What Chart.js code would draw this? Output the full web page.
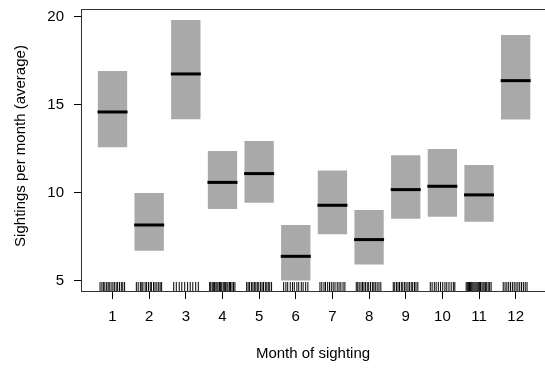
<!DOCTYPE html>
<html>
<head>
<meta charset="utf-8">
<script src="https://cdn.jsdelivr.net/npm/chart.js@4.4.1/dist/chart.umd.min.js"></script>
<style>
  html, body { margin: 0; padding: 0; background: #fff; }
  #wrap { width: 545px; height: 369px; }
</style>
</head>
<body>
<div id="wrap"><canvas id="sightChart" width="545" height="369"></canvas></div>
<script>
// Data
const months   = [1, 2, 3, 4, 5, 6, 7, 8, 9, 10, 11, 12];
const boxLow   = [12.6, 6.72, 14.19, 9.09, 9.45, 5.02, 7.65, 5.93, 8.54, 8.65, 8.37, 14.17];
const boxHigh  = [16.93, 10.0, 19.83, 12.39, 12.95, 8.18, 11.27, 9.03, 12.14, 12.5, 11.59, 18.98];
const meanVals = [14.6, 8.18, 16.76, 10.6, 11.1, 6.4, 9.3, 7.35, 10.19, 10.38, 9.89, 16.38];
const yTicks   = [5, 10, 15, 20];
const xTicks   = [1, 2, 3, 4, 5, 6, 7, 8, 9, 10, 11, 12];

// rug: jitter of individual observations around each month
const rugOffsets = [
    [-0.34,-0.29,-0.25,-0.21,-0.16,-0.12,-0.09,-0.04,0.01,0.05,0.10,0.14,0.19,0.24,0.28,0.33],
    [-0.35,-0.30,-0.24,-0.20,-0.17,-0.11,-0.07,-0.02,0.03,0.06,0.12,0.16,0.21,0.26,0.30,0.34],
    [-0.33,-0.26,-0.18,-0.11,-0.03,0.05,0.12,0.19,0.27,0.34],
    [-0.35,-0.32,-0.28,-0.25,-0.22,-0.18,-0.15,-0.12,-0.08,-0.05,-0.02,0.02,0.05,0.08,0.12,0.15,0.19,0.22,0.26,0.30,0.34],
    [-0.34,-0.30,-0.26,-0.21,-0.17,-0.13,-0.09,-0.05,-0.01,0.04,0.08,0.12,0.17,0.21,0.25,0.29,0.34],
    [-0.33,-0.27,-0.22,-0.15,-0.09,-0.04,0.03,0.08,0.15,0.20,0.27,0.33],
    [-0.34,-0.29,-0.23,-0.19,-0.13,-0.08,-0.03,0.02,0.07,0.13,0.18,0.23,0.29,0.34],
    [-0.35,-0.31,-0.27,-0.22,-0.18,-0.14,-0.10,-0.05,-0.01,0.04,0.09,0.13,0.17,0.22,0.27,0.32],
    [-0.34,-0.30,-0.25,-0.21,-0.17,-0.12,-0.08,-0.03,0.01,0.06,0.10,0.15,0.19,0.24,0.28,0.33],
    [-0.33,-0.28,-0.22,-0.17,-0.11,-0.05,0.01,0.07,0.12,0.18,0.24,0.30,0.34],
    [-0.35,-0.32,-0.29,-0.26,-0.23,-0.20,-0.17,-0.14,-0.11,-0.08,-0.05,-0.02,0.01,0.04,0.08,0.11,0.14,0.18,0.21,0.25,0.29,0.33],
    [-0.34,-0.29,-0.24,-0.19,-0.14,-0.09,-0.04,0.01,0.06,0.11,0.16,0.21,0.26,0.31]
];

const xTitle = 'Month of sighting';
const yTitle = 'Sightings per month (average)';

const FONT = '"Liberation Sans", Arial, Helvetica, sans-serif';

// top frame line, rug and axis titles (R style)
const extrasPlugin = {
    id: 'extras',
    afterDatasetsDraw(chart) {
        const ctx = chart.ctx;
        const area = chart.chartArea;
        const xs = chart.scales.x;
        ctx.save();
        // rug
        ctx.strokeStyle = '#000';
        ctx.lineWidth = 1;
        rugOffsets.forEach((offs, i) => {
            offs.forEach(o => {
                const px = xs.getPixelForValue(months[i] + o);
                ctx.beginPath();
                ctx.moveTo(px, area.bottom);
                ctx.lineTo(px, area.bottom - 9);
                ctx.stroke();
            });
        });
        // top line of the box
        ctx.strokeStyle = '#333';
        ctx.beginPath();
        ctx.moveTo(area.left, area.top + 0.5);
        ctx.lineTo(area.right, area.top + 0.5);
        ctx.stroke();
        ctx.restore();
    },
    afterDraw(chart) {
        const ctx = chart.ctx;
        const area = chart.chartArea;
        ctx.save();
        ctx.fillStyle = '#000';
        ctx.font = '15px ' + FONT;
        ctx.textAlign = 'center';
        ctx.textBaseline = 'alphabetic';
        ctx.fillText(xTitle, (area.left + area.right) / 2, 358);
        ctx.translate(25, 146);
        ctx.rotate(-Math.PI / 2);
        ctx.fillText(yTitle, 0, 0);
        ctx.restore();
    }
};

const ctx = document.getElementById('sightChart');
new Chart(ctx, {
    type: 'bar',
    data: {
        datasets: [{
            type: 'bar',
            label: 'range',
            data: months.map((m, i) => ({ x: m, y: [boxLow[i], boxHigh[i]] })),
            backgroundColor: '#a9a9a9',
            borderWidth: 0,
            barPercentage: 1,
            categoryPercentage: 0.8,
            order: 2
        }, {
            type: 'scatter',
            label: 'mean',
            data: months.map((m, i) => ({ x: m, y: meanVals[i] })),
            pointStyle: 'line',
            pointRadius: 15,
            pointHoverRadius: 15,
            borderColor: '#000',
            backgroundColor: '#000',
            borderWidth: 3,
            order: 1
        }]
    },
    options: {
        responsive: false,
        animation: false,
        devicePixelRatio: 1,
        layout: { autoPadding: false, padding: { top: 9, right: 0, left: 0, bottom: 0 } },
        plugins: {
            legend: { display: false },
            tooltip: { enabled: false }
        },
        scales: {
            x: {
                type: 'linear',
                min: 0.14,
                max: 12.8,
                offset: false,
                afterBuildTicks: (scale) => { scale.ticks = xTicks.map(v => ({ value: v })); },
                afterFit: (scale) => {
                    scale.height = 78;
                    scale.paddingLeft = 0;
                    scale.paddingRight = 0;
                },
                grid: {
                    offset: false,
                    drawOnChartArea: false,
                    drawTicks: true,
                    tickLength: 8,
                    tickColor: '#000'
                },
                border: { display: true, color: '#333', width: 1 },
                ticks: {
                    color: '#000',
                    font: { family: FONT, size: 15 },
                    padding: 9,
                    maxRotation: 0,
                    autoSkip: false
                }
            },
            y: {
                type: 'linear',
                min: 4.43,
                max: 20.45,
                beginAtZero: false,
                afterBuildTicks: (scale) => { scale.ticks = yTicks.map(v => ({ value: v })); },
                afterFit: (scale) => {
                    scale.width = 81;
                    scale.paddingTop = 0;
                    scale.paddingBottom = 0;
                },
                grid: {
                    drawOnChartArea: false,
                    drawTicks: true,
                    tickLength: 7,
                    tickColor: '#000'
                },
                border: { display: true, color: '#333', width: 1 },
                ticks: {
                    color: '#000',
                    font: { family: FONT, size: 15 },
                    padding: 10
                }
            }
        }
    },
    plugins: [extrasPlugin]
});
</script>
</body>
</html>
